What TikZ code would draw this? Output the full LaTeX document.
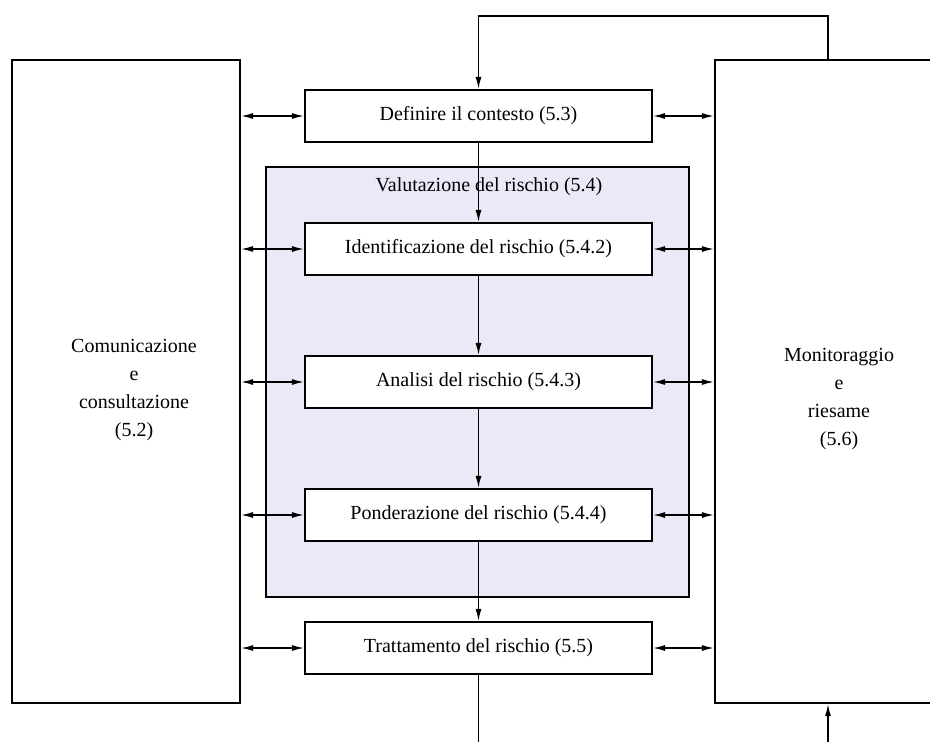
\documentclass[tikz,border=0pt]{standalone}
\usepackage{fontspec}
\setmainfont{Liberation Serif}
\definecolor{valFill}{RGB}{233, 233, 247}
\usetikzlibrary{arrows.meta, positioning, calc}

\tikzset{
    stepbox/.style={draw, line width=2.2pt, fill=white, minimum width=347pt,
                    minimum height=52pt, inner sep=0pt,
                    font=\fontsize{20}{24}\selectfont},
    sidebox/.style={draw, line width=2.2pt, minimum height=643pt, inner sep=0pt},
    sidetext/.style={align=center, font=\fontsize{20}{28}\selectfont},
    flow/.style={line width=1.3pt, -{Latex[length=12pt, width=6pt]}},
    link/.style={line width=1.3pt, {Latex[length=12pt, width=6pt]}-{Latex[length=12pt, width=6pt]}}
}

\begin{document}
\begin{tikzpicture}[x=1pt, y=-1pt]
    \useasboundingbox (0,0) rectangle (930,742);
    \clip (0,0) rectangle (930,742);

    % Side boxes
    \node[sidebox, minimum width=228pt] (comm) at (126,381.5) {};
    \node[sidetext] (commtxt) at (134,390) {Comunicazione\\e\\consultazione\\(5.2)};
    \node[sidebox, minimum width=250pt] (moni) at (840,381.5) {};
    \node[sidetext] (monitxt) at (839,399) {Monitoraggio\\e\\riesame\\(5.6)};

    % Risk assessment area
    \node[draw, line width=1.8pt, fill=valFill, minimum width=423pt,
          minimum height=430pt] (val) at (477.5,382) {};
    \node[font=\fontsize{20}{24}\selectfont] (valtxt) at (489,187) {Valutazione del rischio (5.4)};

    % Process steps
    \node[stepbox] (def) at (478.5,116) {Definire il contesto (5.3)};
    \node[stepbox] (ident) at (478.5,249) {Identificazione del rischio (5.4.2)};
    \node[stepbox] (anal) at (478.5,382) {Analisi del rischio (5.4.3)};
    \node[stepbox] (pond) at (478.5,515) {Ponderazione del rischio (5.4.4)};
    \node[stepbox] (tratt) at (478.5,648) {Trattamento del rischio (5.5)};

    % Main flow
    \draw[flow] (def) -- (ident);
    \draw[flow] (ident) -- (anal);
    \draw[flow] (anal) -- (pond);
    \draw[flow] (pond) -- (tratt);

    % Links to the side boxes
    \foreach \s in {def, ident, anal, pond, tratt} {
        \draw[link] (comm.east |- \s.west) -- (\s.west);
        \draw[link] (\s.east) -- (moni.west |- \s.east);
    }

    % Feedback loops
    \coordinate (topR) at (828,16);
    \coordinate (topL) at (478.5,16);
    \draw[flow] (moni.north -| topR) -- (topR) -- (topL) -- (def.north);
    \coordinate (botL) at (478.5,760);
    \coordinate (botR) at (828,760);
    \draw[flow] (tratt.south) -- (botL) -- (botR) -- (moni.south -| botR);
\end{tikzpicture}
\end{document}
